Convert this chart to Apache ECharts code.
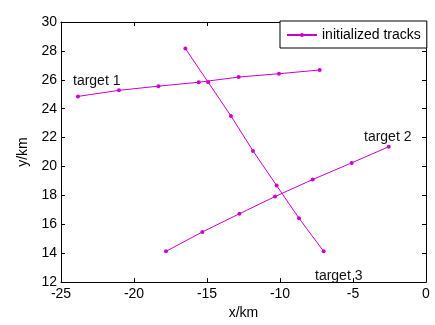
<!DOCTYPE html>
<html>
<head>
<meta charset="utf-8">
<script src="https://cdn.jsdelivr.net/npm/echarts@6/dist/echarts.min.js"></script>
<style>
  html, body { margin: 0; padding: 0; background: #fff; }
  #chart { width: 435px; height: 325px; }
</style>
</head>
<body>
<div id="chart"></div>
<script>
// Track coordinates in km
const target1X = [-23.84, -21.03, -18.33, -15.57, -12.83, -10.07, -7.28];
const target1Y = [24.85, 25.27, 25.56, 25.83, 26.19, 26.42, 26.68];

const target2X = [-17.81, -15.32, -12.78, -10.34, -7.76, -5.09, -2.55];
const target2Y = [14.13, 15.47, 16.73, 17.92, 19.10, 20.25, 21.37];

const target3X = [-16.48, -14.92, -13.36, -11.85, -10.23, -8.70, -7.01];
const target3Y = [28.16, 25.83, 23.50, 21.08, 18.68, 16.42, 14.13];

const trackName = 'initialized tracks';
const targetLabels = ['target 1', 'target 2', 'target 3'];

const xRange = { min: -25, max: 0, interval: 5 };
const yRange = { min: 12, max: 30, interval: 2 };

const FONT = '"Liberation Sans", Arial, sans-serif';
const TRACK_COLOR = '#cc00cc';

function pairs(xs, ys) {
  return xs.map((x, i) => [x, ys[i]]);
}

function trackSeries(xs, ys) {
  return {
    name: trackName,
    type: 'line',
    data: pairs(xs, ys),
    symbol: 'circle',
    symbolSize: 4,
    showAllSymbol: true,
    lineStyle: { color: TRACK_COLOR, width: 1 },
    itemStyle: { color: TRACK_COLOR },
    emphasis: { disabled: true },
    animation: false
  };
}

const boxAxisLine = { show: true, onZero: false, lineStyle: { color: '#000', width: 1 } };
const innerTicks = { show: true, inside: true, length: 4, lineStyle: { color: '#000', width: 1 } };
const tickLabel = { color: '#000', fontSize: 14, fontFamily: FONT, margin: 5 };

const chart = echarts.init(document.getElementById('chart'), null, { renderer: 'canvas' });

const textStyle = { fill: '#111', font: '14px ' + FONT };

chart.setOption({
  backgroundColor: '#fff',
  animation: false,
  grid: { left: 61, right: 9, top: 22, bottom: 36 },
  legend: {
    data: [trackName],
    left: 280,
    top: 21,
    padding: [7, 6, 6, 6],
    itemWidth: 30,
    itemHeight: 5,
    itemGap: 4,
    backgroundColor: '#fff',
    borderColor: '#000',
    borderWidth: 1,
    borderRadius: 0,
    textStyle: { color: '#000', fontSize: 14, fontFamily: FONT }
  },
  xAxis: [
    {
      type: 'value', position: 'bottom',
      min: xRange.min, max: xRange.max, interval: xRange.interval,
      name: 'x/km', nameLocation: 'middle', nameGap: 19,
      nameTextStyle: { color: '#000', fontSize: 14, fontFamily: FONT },
      axisLine: boxAxisLine, axisTick: innerTicks, axisLabel: tickLabel,
      splitLine: { show: false }
    },
    {
      type: 'value', position: 'top',
      min: xRange.min, max: xRange.max, interval: xRange.interval,
      axisLine: boxAxisLine, axisTick: innerTicks, axisLabel: { show: false },
      splitLine: { show: false }
    }
  ],
  yAxis: [
    {
      type: 'value', position: 'left',
      min: yRange.min, max: yRange.max, interval: yRange.interval,
      name: 'y/km', nameLocation: 'middle', nameGap: 26,
      nameTextStyle: { color: '#000', fontSize: 14, fontFamily: FONT },
      axisLine: boxAxisLine, axisTick: innerTicks,
      axisLabel: Object.assign({}, tickLabel, { margin: 4 }),
      splitLine: { show: false }
    },
    {
      type: 'value', position: 'right',
      min: yRange.min, max: yRange.max, interval: yRange.interval,
      axisLine: boxAxisLine, axisTick: innerTicks, axisLabel: { show: false },
      splitLine: { show: false }
    }
  ],
  series: [
    trackSeries(target1X, target1Y),
    trackSeries(target2X, target2Y),
    trackSeries(target3X, target3Y)
  ],
  graphic: [
    { type: 'text', left: 73, top: 74, style: Object.assign({ text: targetLabels[0] }, textStyle) },
    { type: 'text', left: 364, top: 130, style: Object.assign({ text: targetLabels[1] }, textStyle) },
    { type: 'text', left: 315, top: 269, style: Object.assign({ text: targetLabels[2] }, textStyle) }
  ]
});
</script>
</body>
</html>
